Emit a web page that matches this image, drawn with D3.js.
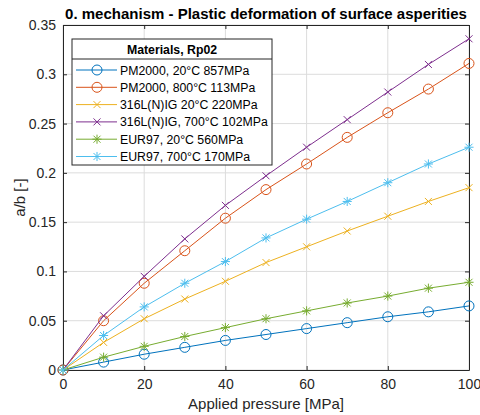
<!DOCTYPE html>
<html>
<head>
<meta charset="utf-8">
<script src="https://d3js.org/d3.v7.min.js"></script>
<style>
  body { margin: 0; background: #fff; }
  text { font-family: "Liberation Sans", Arial, Helvetica, sans-serif; }
</style>
</head>
<body>
<div id="chart"></div>
<script>
// applied pressure [MPa]
var pressure = [0, 10, 20, 30, 40, 50, 60, 70, 80, 90, 100];

var pm2000_20 = [0, 0.008, 0.016, 0.023, 0.030, 0.036, 0.042, 0.048, 0.054, 0.059, 0.065];
var pm2000_800 = [0, 0.050, 0.088, 0.121, 0.154, 0.183, 0.209, 0.236, 0.261, 0.285, 0.311];
var l316_20 = [0, 0.028, 0.052, 0.072, 0.090, 0.109, 0.125, 0.141, 0.156, 0.171, 0.185];
var l316_700 = [0, 0.055, 0.095, 0.133, 0.167, 0.197, 0.226, 0.254, 0.282, 0.310, 0.336];
var eur97_20 = [0, 0.013, 0.024, 0.034, 0.043, 0.052, 0.060, 0.068, 0.075, 0.083, 0.089];
var eur97_700 = [0, 0.035, 0.064, 0.088, 0.110, 0.134, 0.153, 0.171, 0.190, 0.209, 0.226];

var names = ['PM2000, 20°C 857MPa', 'PM2000, 800°C 113MPa', '316L(N)IG 20°C 220MPa',
    '316L(N)IG, 700°C 102MPa', 'EUR97, 20°C 560MPa', 'EUR97, 700°C 170MPa'];
var colors = ['#0072BD', '#D95319', '#EDB120', '#7E2F8E', '#77AC30', '#4DBEEE'];
var markers = ['o', 'o', 'x', 'x', '*', '*'];
var allSeries = [pm2000_20, pm2000_800, l316_20, l316_700, eur97_20, eur97_700];

var xTicks = [0, 20, 40, 60, 80, 100];
var yTicks = [0, 0.05, 0.1, 0.15, 0.2, 0.25, 0.3, 0.35];

var w = 480, h = 415;
var pLeft = 63, pRight = 469, pTop = 25, pBottom = 370;

var svg = d3.select('#chart').append('svg')
    .attr('width', w)
    .attr('height', h);

var xscale = d3.scaleLinear().domain([0, 100]).range([pLeft, pRight]);
var yscale = d3.scaleLinear().domain([0, 0.35]).range([pBottom, pTop]);

// grid
var grid = svg.append('g');
grid.selectAll('.gx').data(xTicks).enter().append('line')
    .attr('x1', function (d) { return xscale(d); })
    .attr('x2', function (d) { return xscale(d); })
    .attr('y1', pTop).attr('y2', pBottom)
    .attr('stroke', '#dcdcdc').attr('stroke-width', 1);
grid.selectAll('.gy').data(yTicks).enter().append('line')
    .attr('y1', function (d) { return yscale(d); })
    .attr('y2', function (d) { return yscale(d); })
    .attr('x1', pLeft).attr('x2', pRight)
    .attr('stroke', '#dcdcdc').attr('stroke-width', 1);

// axes (ticks inward, box on)
var fmtY = function (d) { return d === 0 ? '0' : String(+d.toFixed(2)); };
function styleAxis(g) {
    g.selectAll('path').attr('stroke', '#262626');
    g.selectAll('line').attr('stroke', '#262626');
    g.selectAll('text').attr('fill', '#262626').attr('font-size', '14px')
        .attr('font-family', '"Liberation Sans", Arial, sans-serif');
}
svg.append('g').attr('transform', 'translate(0,' + pBottom + ')')
    .call(d3.axisBottom(xscale).tickValues(xTicks).tickSizeInner(-4).tickSizeOuter(0).tickPadding(9))
    .call(styleAxis);
svg.append('g').attr('transform', 'translate(0,' + pTop + ')')
    .call(d3.axisTop(xscale).tickValues(xTicks).tickSizeInner(-4).tickSizeOuter(0).tickFormat(''))
    .call(styleAxis);
svg.append('g').attr('transform', 'translate(' + pLeft + ',0)')
    .call(d3.axisLeft(yscale).tickValues(yTicks).tickSizeInner(-4).tickSizeOuter(0).tickPadding(7).tickFormat(fmtY))
    .call(styleAxis);
svg.append('g').attr('transform', 'translate(' + pRight + ',0)')
    .call(d3.axisRight(yscale).tickValues(yTicks).tickSizeInner(-4).tickSizeOuter(0).tickFormat(''))
    .call(styleAxis);

// lines + markers
var line = d3.line()
    .x(function (d) { return xscale(d[0]); })
    .y(function (d) { return yscale(d[1]); });

function drawMarker(g, type, cx, cy, color) {
    if (type === 'o') {
        g.append('circle').attr('cx', cx).attr('cy', cy).attr('r', 5)
            .attr('fill', 'none').attr('stroke', color).attr('stroke-width', 1);
    } else {
        var s = 3.5;
        var p = 'M' + (cx - s) + ',' + (cy - s) + 'L' + (cx + s) + ',' + (cy + s) +
            'M' + (cx - s) + ',' + (cy + s) + 'L' + (cx + s) + ',' + (cy - s);
        if (type === '*') {
            p += 'M' + (cx - s * 1.3) + ',' + cy + 'L' + (cx + s * 1.3) + ',' + cy +
                'M' + cx + ',' + (cy - s * 1.3) + 'L' + cx + ',' + (cy + s * 1.3);
        }
        g.append('path').attr('d', p).attr('stroke', color).attr('stroke-width', 1).attr('fill', 'none');
    }
}

allSeries.forEach(function (vals, i) {
    var pts = pressure.map(function (p, j) { return [p, vals[j]]; });
    var g = svg.append('g');
    g.append('path')
        .attr('d', line(pts))
        .attr('stroke', colors[i])
        .attr('stroke-width', 1)
        .attr('fill', 'none');
    pts.forEach(function (d) {
        drawMarker(g, markers[i], xscale(d[0]), yscale(d[1]), colors[i]);
    });
});

// title and labels
svg.append('text')
    .text('0. mechanism - Plastic deformation of surface asperities')
    .attr('x', (pLeft + pRight) / 2).attr('y', 19)
    .attr('text-anchor', 'middle')
    .attr('font-size', '15px').attr('font-weight', 'bold').attr('fill', '#000');
svg.append('text')
    .text('Applied pressure [MPa]')
    .attr('x', (pLeft + pRight) / 2).attr('y', 409)
    .attr('text-anchor', 'middle')
    .attr('font-size', '15px').attr('fill', '#262626');
svg.append('text')
    .text('a/b [-]')
    .attr('transform', 'translate(25,' + ((pTop + pBottom) / 2) + ') rotate(-90)')
    .attr('text-anchor', 'middle')
    .attr('font-size', '15px').attr('fill', '#262626');

// legend
var lg = svg.append('g');
lg.append('rect').attr('x', 72).attr('y', 39).attr('width', 200).attr('height', 126)
    .attr('fill', '#fff').attr('stroke', '#262626').attr('stroke-width', 1);
lg.append('text').text('Materials, Rp02')
    .attr('x', 172).attr('y', 54)
    .attr('text-anchor', 'middle')
    .attr('font-size', '12.3px').attr('font-weight', 'bold').attr('fill', '#000');
lg.append('line').attr('x1', 72).attr('x2', 272).attr('y1', 59).attr('y2', 59)
    .attr('stroke', '#262626').attr('stroke-width', 1);
names.forEach(function (n, i) {
    var yy = 70 + i * 17.3;
    lg.append('line').attr('x1', 76).attr('x2', 117).attr('y1', yy).attr('y2', yy)
        .attr('stroke', colors[i]).attr('stroke-width', 1);
    drawMarker(lg, markers[i], 97, yy, colors[i]);
    lg.append('text').text(n)
        .attr('x', 120).attr('y', yy + 4.5)
        .attr('font-size', '12.3px').attr('fill', '#000');
});
</script>
</body>
</html>
